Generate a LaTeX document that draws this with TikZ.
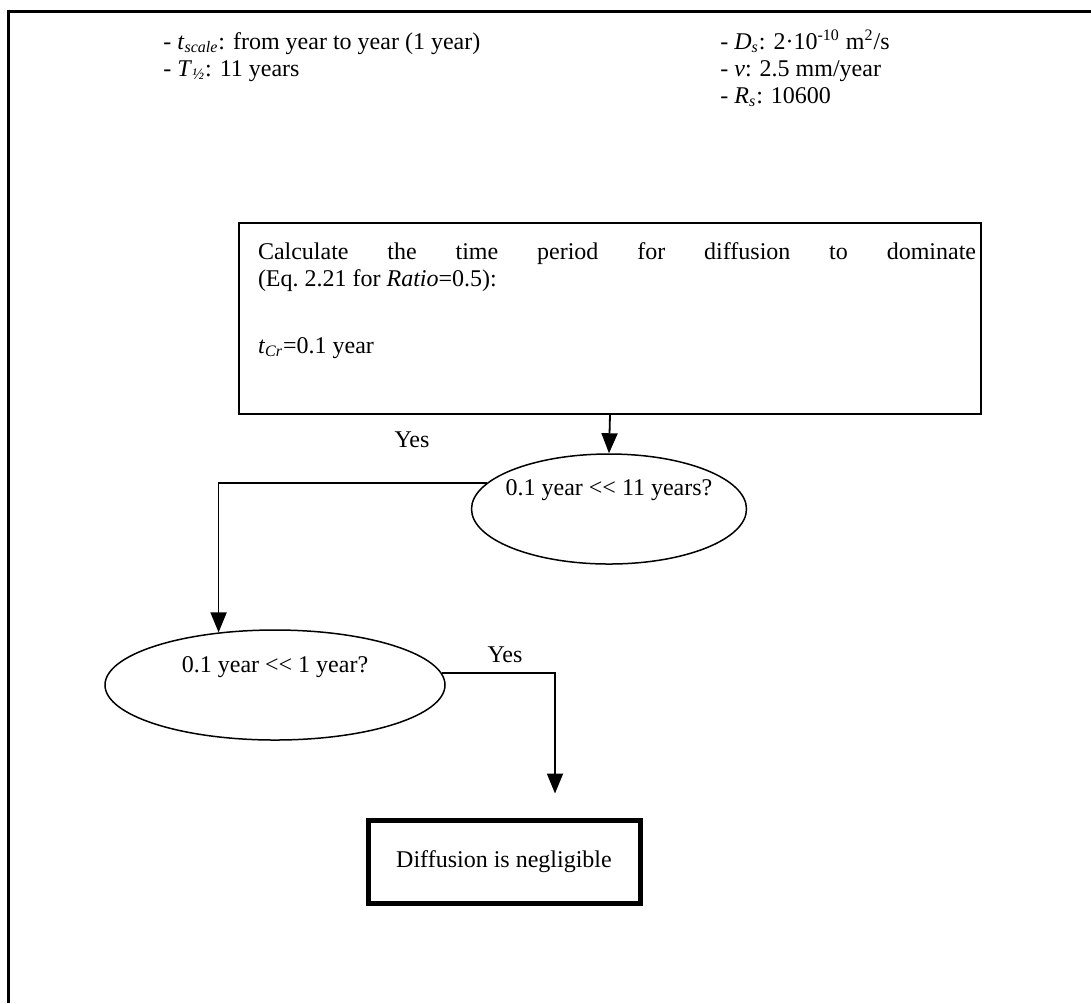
\documentclass[tikz,border=0pt]{standalone}
\usepackage{fontspec}
\setmainfont{Liberation Serif}
\usetikzlibrary{shapes.geometric,arrows.meta}

\begin{document}
\begin{tikzpicture}[x=0.5pt,y=-0.5pt,font=\fontsize{12}{13.5}\selectfont,
    >={Triangle[width=8pt,length=10pt]},
    flow/.style={line width=0.9pt,->},
    decision/.style={draw,ellipse,line width=0.75pt,inner sep=0pt},
    tag/.style={anchor=base west,inner sep=0pt}]
    \useasboundingbox (0,0) rectangle (1091,1003);
    \draw[line width=1.5pt] (8,1003) -- (8,11) -- (1091,11);

    % data of the case
    \node[tag] (tscale) at (163,49) {- \textit{t}\textsubscript{\textit{scale}}: from year to year (1 year)};
    \node[tag] (thalf) at (163,76) {- \textit{T}\textsubscript{\textit{½}}: 11 years};
    \node[tag] (ds) at (720,49) {- \textit{D}\textsubscript{\textit{s}}: 2·10\textsuperscript{-10} m\textsuperscript{2}/s};
    \node[tag] (vel) at (720,76) {- \textit{v}: 2.5 mm/year};
    \node[tag] (rs) at (720,103) {- \textit{R}\textsubscript{\textit{s}}: 10600};

    \node[draw,line width=1pt,anchor=north west,inner sep=0pt,minimum width=371pt,
          text height=18pt,text depth=77.5pt] (calc) at (238,222)
        {\hspace{7pt}\parbox[t]{359pt}{%
         Calculate the time period for diffusion to dominate\linebreak
         (Eq.~2.21 for \textit{Ratio}=0.5):\\[20pt]
         \textit{t}\textsubscript{\textit{Cr}}=0.1 year}};

    \node[decision,minimum width=137.5pt,minimum height=55pt] (e1) at (609,509) {};
    \node (e1t) at (609,490) {0.1 year <{}< 11 years?};
    \node[decision,minimum width=170pt,minimum height=55pt] (e2) at (275,685) {};
    \node (e2t) at (275,667) {0.1 year <{}< 1 year?};
    \node (yes1) at (412,440) {Yes};
    \node (yes2) at (505,655) {Yes};

    \node[draw,line width=2.5pt,minimum width=136pt,minimum height=41.5pt] (res) at (504,861.5)
        {Diffusion is negligible};

    \draw[flow] (calc.south) -- (e1.north);
    \draw[flow] (e1.168) -| (e2.137);
    \draw[flow,shorten >=12pt] (e2.4) -| ([xshift=25.5pt]res.north);
\end{tikzpicture}
\end{document}
